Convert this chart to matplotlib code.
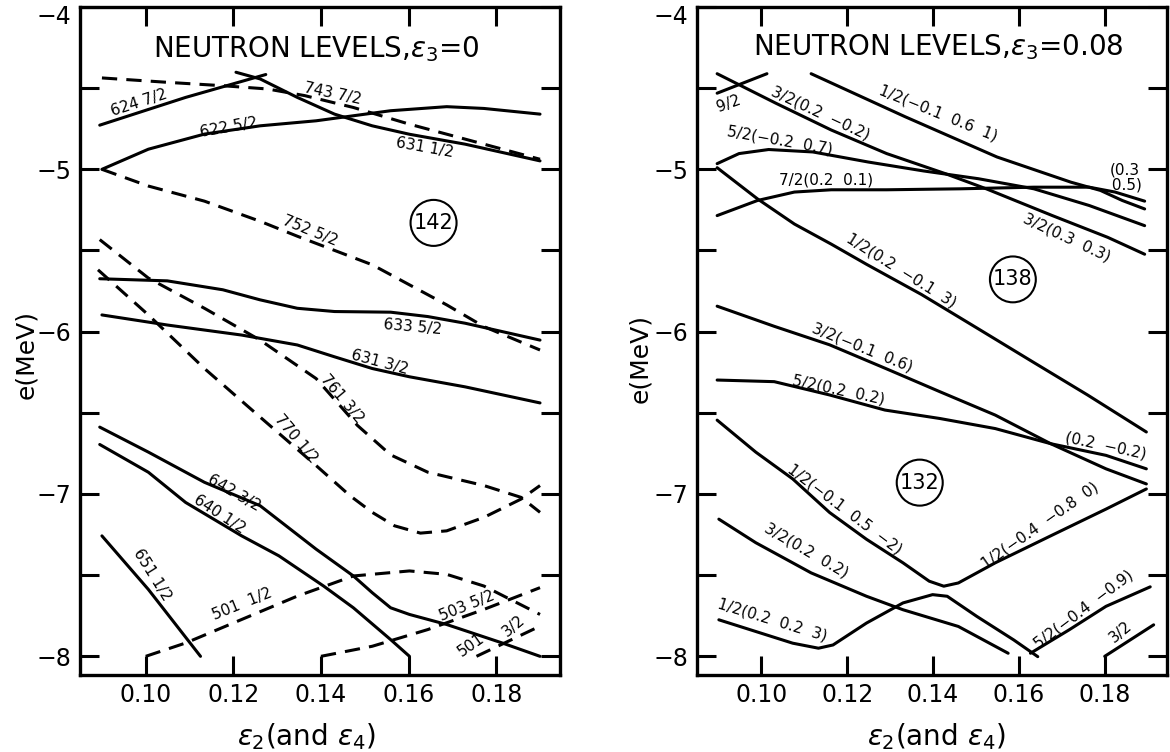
import matplotlib.pyplot as plt
from matplotlib.ticker import MultipleLocator

plt.rcParams['font.family'] = 'DejaVu Sans'
plt.rcParams['mathtext.fontset'] = 'dejavusans'

# ---- left panel, eps3 = 0 : solid = positive parity, dashed = negative ----
x624_72 = [0.0895, 0.1091, 0.1274]
y624_72 = [-4.728, -4.557, -4.416]
x631_12 = [0.1206, 0.1261, 0.1346, 0.1431, 0.1517, 0.1602, 0.1729, 0.1900]
y631_12 = [-4.402, -4.443, -4.557, -4.660, -4.732, -4.784, -4.845, -4.948]
x622_52 = [0.0900, 0.1006, 0.1134, 0.1261, 0.1389, 0.1474, 0.1559, 0.1687, 0.1772, 0.1900]
y622_52 = [-5.0, -4.876, -4.783, -4.732, -4.701, -4.670, -4.639, -4.614, -4.625, -4.660]
x633_52 = [0.0895, 0.1049, 0.1176, 0.1261, 0.1346, 0.1431, 0.1559, 0.1644, 0.1729, 0.1900]
y633_52 = [-5.674, -5.687, -5.742, -5.804, -5.856, -5.876, -5.880, -5.907, -5.948, -6.052]
x631_32 = [0.0900, 0.1049, 0.1219, 0.1346, 0.1431, 0.1517, 0.1602, 0.1729, 0.1900]
y631_32 = [-5.897, -5.959, -6.021, -6.082, -6.155, -6.227, -6.278, -6.340, -6.439]
x642_32 = [0.0895, 0.1006, 0.1134, 0.1261, 0.1389, 0.1474, 0.1517, 0.1559, 0.1602, 0.1687, 0.1814, 0.1900]
y642_32 = [-6.588, -6.742, -6.928, -7.072, -7.340, -7.505, -7.608, -7.701, -7.742, -7.804, -7.918, -8.0]
x640_12 = [0.0895, 0.1006, 0.1091, 0.1219, 0.1304, 0.1406, 0.1474, 0.1559, 0.1602]
y640_12 = [-6.695, -6.866, -7.052, -7.258, -7.381, -7.567, -7.701, -7.897, -8.0]
x651_12 = [0.0900, 0.1006, 0.1125]
y651_12 = [-7.258, -7.588, -8.0]

x743_72 = [0.0900, 0.1049, 0.1176, 0.1278, 0.1363, 0.1474, 0.1602, 0.1772, 0.1900]
y743_72 = [-4.437, -4.464, -4.485, -4.505, -4.546, -4.619, -4.722, -4.845, -4.938]
x752_52 = [0.0900, 0.1006, 0.1134, 0.1261, 0.1346, 0.1517, 0.1687, 0.1772, 0.1900]
y752_52 = [-5.0, -5.103, -5.196, -5.320, -5.412, -5.588, -5.835, -5.969, -6.113]
x761_32 = [0.0895, 0.1006, 0.1134, 0.1261, 0.1389, 0.1483, 0.1559, 0.1644, 0.1772, 0.1857, 0.1900]
y761_32 = [-5.433, -5.670, -5.856, -6.052, -6.289, -6.577, -6.759, -6.866, -6.948, -7.021, -7.113]
x770_12 = [0.0891, 0.1006, 0.1134, 0.1261, 0.1389, 0.1466, 0.1517, 0.1568, 0.1627, 0.1687, 0.1772, 0.1857, 0.1900]
y770_12 = [-5.619, -5.897, -6.227, -6.526, -6.825, -7.010, -7.113, -7.196, -7.241, -7.227, -7.144, -7.031, -6.948]
x501_12 = [0.1000, 0.1091, 0.1219, 0.1346, 0.1474, 0.1602, 0.1687, 0.1772, 0.1900]
y501_12 = [-8.0, -7.918, -7.773, -7.629, -7.505, -7.474, -7.495, -7.567, -7.742]
x503_52 = [0.1400, 0.1517, 0.1644, 0.1772, 0.1900]
y503_52 = [-8.0, -7.938, -7.835, -7.711, -7.577]
x501_32 = [0.1755, 0.1900]
y501_32 = [-8.0, -7.814]

left_solid = [(x624_72, y624_72), (x631_12, y631_12), (x622_52, y622_52), (x633_52, y633_52),
              (x631_32, y631_32), (x642_32, y642_32), (x640_12, y640_12), (x651_12, y651_12)]
left_dashed = [(x743_72, y743_72), (x752_52, y752_52), (x761_32, y761_32), (x770_12, y770_12),
               (x501_12, y501_12), (x503_52, y503_52), (x501_32, y501_32)]

left_labels = ['624 7/2', '743 7/2', '622 5/2', '631 1/2', '752 5/2', '633 5/2', '631 3/2',
               '761 3/2', '770 1/2', '642 3/2', '640 1/2', '651 1/2', '501  1/2', '503 5/2',
               '501', '3/2']
left_lab_x = [0.0985, 0.1427, 0.1189, 0.1636, 0.1376, 0.1610, 0.1533,
              0.1448, 0.1342, 0.1202, 0.1168, 0.1014, 0.1219, 0.1734, 0.1742, 0.1840]
left_lab_y = [-4.588, -4.536, -4.742, -4.866, -5.381, -5.969, -6.186,
              -6.412, -6.660, -6.990, -7.124, -7.495, -7.680, -7.691, -7.928, -7.814]
left_lab_rot = [18, -12, 10, -10, -22, -5, -15, -50, -50, -30, -33, -58, 22, 22, 35, 40]

# ---- right panel, eps3 = 0.08 ----
xr92 = [0.0897, 0.1013]
yr92 = [-4.531, -4.411]
xr32a = [0.0897, 0.1034, 0.1163, 0.1292, 0.1429, 0.1524, 0.1678, 0.1807, 0.1893]
yr32a = [-4.411, -4.593, -4.758, -4.903, -5.027, -5.120, -5.285, -5.419, -5.523]
xr12a = [0.1116, 0.1335, 0.1549, 0.1721, 0.1790, 0.1841, 0.1893]
yr12a = [-4.411, -4.676, -4.924, -5.079, -5.130, -5.192, -5.244]
xr52a = [0.0897, 0.0948, 0.1017, 0.1120, 0.1249, 0.1378, 0.1506, 0.1635, 0.1764, 0.1893]
yr52a = [-4.965, -4.903, -4.878, -4.893, -4.955, -5.010, -5.058, -5.120, -5.223, -5.347]
xr72 = [0.0897, 0.0991, 0.1077, 0.1163, 0.1292, 0.1464, 0.1635, 0.1764, 0.1824, 0.1893]
yr72 = [-5.285, -5.192, -5.140, -5.126, -5.126, -5.120, -5.110, -5.110, -5.140, -5.196]
xr12b = [0.0897, 0.0991, 0.1077, 0.1163, 0.1245, 0.1373, 0.1502, 0.1631, 0.1760, 0.1897]
yr12b = [-4.990, -5.182, -5.337, -5.461, -5.585, -5.771, -5.977, -6.184, -6.390, -6.618]
xr32b = [0.0897, 0.1030, 0.1159, 0.1288, 0.1416, 0.1545, 0.1674, 0.1803, 0.1897]
yr32b = [-5.843, -5.967, -6.081, -6.225, -6.370, -6.514, -6.690, -6.845, -6.938]
xr52b = [0.0897, 0.1030, 0.1159, 0.1288, 0.1416, 0.1545, 0.1674, 0.1803, 0.1897]
yr52b = [-6.298, -6.308, -6.390, -6.483, -6.535, -6.597, -6.690, -6.762, -6.845]
xr12c = [0.0897, 0.0987, 0.1073, 0.1159, 0.1245, 0.1330, 0.1391, 0.1425, 0.1459, 0.1545, 0.1674, 0.1803, 0.1897]
yr12c = [-6.545, -6.742, -6.907, -7.114, -7.279, -7.424, -7.537, -7.568, -7.548, -7.424, -7.258, -7.093, -6.969]
xr32c = [0.0901, 0.0987, 0.1116, 0.1245, 0.1330, 0.1459, 0.1575]
yr32c = [-7.155, -7.300, -7.486, -7.630, -7.713, -7.816, -7.981]
xr12d = [0.0901, 0.0987, 0.1073, 0.1133, 0.1167, 0.1245, 0.1330, 0.1399, 0.1433, 0.1502, 0.1588, 0.1644]
yr12d = [-7.775, -7.847, -7.919, -7.950, -7.930, -7.795, -7.671, -7.620, -7.630, -7.754, -7.899, -8.002]
xr52c = [0.1627, 0.1717, 0.1803, 0.1906]
yr52c = [-7.981, -7.837, -7.692, -7.572]
xr32d = [0.1800, 0.1914]
yr32d = [-8.0, -7.806]

right_solid = [(xr92, yr92), (xr32a, yr32a), (xr12a, yr12a), (xr52a, yr52a), (xr72, yr72),
               (xr12b, yr12b), (xr32b, yr32b), (xr52b, yr52b), (xr12c, yr12c), (xr32c, yr32c),
               (xr12d, yr12d), (xr52c, yr52c), (xr32d, yr32d)]

right_labels = ['9/2', '3/2(0.2  −0.2)', '1/2(−0.1  0.6  1)', '5/2(−0.2  0.7)', '7/2(0.2  0.1)',
                '(0.3\n 0.5)', '3/2(0.3  0.3)', '1/2(0.2  −0.1  3)', '3/2(−0.1  0.6)',
                '5/2(0.2  0.2)', '(0.2  −0.2)', '1/2(−0.1  0.5  −2)', '1/2(−0.4  −0.8  0)',
                '3/2(0.2  0.2)', '1/2(0.2  0.2  3)', '5/2(−0.4  −0.9)', '3/2']
right_lab_x = [0.0924, 0.1137, 0.1412, 0.1043, 0.1150, 0.1846, 0.1712, 0.1325, 0.1236,
               0.1180, 0.1803, 0.1195, 0.1648, 0.1105, 0.1026, 0.1751, 0.1837]
right_lab_y = [-4.597, -4.655, -4.655, -4.820, -5.064, -5.048, -5.419, -5.625, -6.101,
               -6.360, -6.700, -7.095, -7.196, -7.350, -7.775, -7.713, -7.847]
right_lab_rot = [20, -25, -22, -10, 0, 0, -25, -32, -22, -12, -12, -37, 35, -30, -17, 37, 40]

x_ticks = [0.10, 0.12, 0.14, 0.16, 0.18]
x_ticklabels = ['0.10', '0.12', '0.14', '0.16', '0.18']
y_ticks = [-8, -7, -6, -5, -4]
y_ticklabels = ['−8', '−7', '−6', '−5', '']


def setup(ax):
    ax.set_xlim(0.085, 0.1945)
    ax.set_ylim(-8.115, -4.0)
    ax.set_xticks(x_ticks)
    ax.set_xticklabels(x_ticklabels)
    ax.set_yticks(y_ticks)
    ax.set_yticklabels(y_ticklabels)
    ax.yaxis.set_minor_locator(MultipleLocator(0.5))
    ax.tick_params(which='both', direction='in', length=14, width=2.2,
                   top=True, right=True, labelsize=17, pad=6)
    for s in ax.spines.values():
        s.set_linewidth(2.4)
    # the top "-4" sits just under the frame corner
    ax.annotate('−4', xy=(0, -4.0), xycoords=('axes fraction', 'data'),
                xytext=(-6, -7), textcoords='offset points',
                ha='right', va='center', fontsize=17)


fig = plt.figure(figsize=(11.7, 7.52), dpi=100)
axL = fig.add_axes([0.0684, 0.1024, 0.410, 0.8883])
axR = fig.add_axes([0.5957, 0.1024, 0.4017, 0.8883])

for xs, ys in left_solid:
    axL.plot(xs, ys, color='black', lw=2.2, solid_capstyle='round')
for xs, ys in left_dashed:
    axL.plot(xs, ys, color='black', lw=2.2, linestyle=(0, (5, 3)))
for t, x, y, r in zip(left_labels, left_lab_x, left_lab_y, left_lab_rot):
    axL.text(x, y, t, rotation=r, rotation_mode='anchor', ha='center', va='center', fontsize=11)

for xs, ys in right_solid:
    axR.plot(xs, ys, color='black', lw=2.2, solid_capstyle='round')
for t, x, y, r in zip(right_labels, right_lab_x, right_lab_y, right_lab_rot):
    axR.text(x, y, t, rotation=r, rotation_mode='anchor', ha='center', va='center',
             fontsize=11, linespacing=1.0)

axL.text(0.1389, -4.26, r'NEUTRON LEVELS,$\epsilon_3$=0', fontsize=20, ha='center', va='center')
axR.text(0.1412, -4.25, r'NEUTRON LEVELS,$\epsilon_3$=0.08', fontsize=20, ha='center', va='center')

circle = dict(boxstyle='circle,pad=0.15', fc='white', ec='black', lw=1.5)
axL.text(0.1657, -5.33, '142', fontsize=15, ha='center', va='center', bbox=circle)
axR.text(0.1586, -5.678, '138', fontsize=15, ha='center', va='center', bbox=circle)
axR.text(0.1369, -6.93, '132', fontsize=15, ha='center', va='center', bbox=circle)

setup(axL)
setup(axR)

fig.text(0.022, 0.528, 'e(MeV)', rotation=90, fontsize=18, ha='center', va='center')
fig.text(0.547, 0.523, 'e(MeV)', rotation=90, fontsize=18, ha='center', va='center')
fig.text(0.262, 0.02, r'$\varepsilon_2$(and $\varepsilon_4$)', fontsize=20, ha='center', va='center')
fig.text(0.800, 0.02, r'$\varepsilon_2$(and $\varepsilon_4$)', fontsize=20, ha='center', va='center')

fig.savefig('out.png', dpi=100)
